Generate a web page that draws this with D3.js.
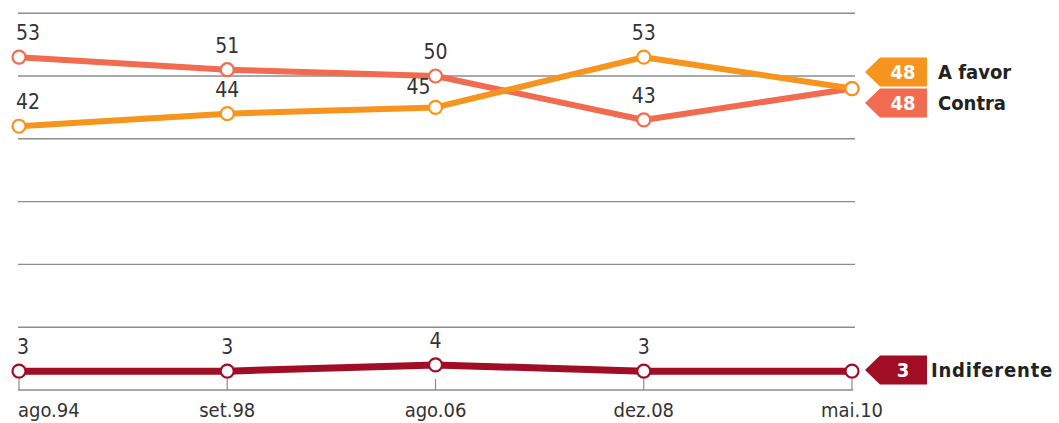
<!DOCTYPE html>
<html>
<head>
<meta charset="utf-8">
<script src="https://cdn.jsdelivr.net/npm/d3@7"></script>
<style>
  html, body { margin: 0; padding: 0; background: #fff; }
  svg { display: block; }
  text { font-family: "DejaVu Sans Condensed", "DejaVu Sans", sans-serif; }
</style>
</head>
<body>
<svg id="chart" width="1059" height="423"></svg>
<script>
/* ---- Data ---- */
var periods = ["ago.94", "set.98", "ago.06", "dez.08", "mai.10"];
var aFavor = [42, 44, 45, 53, 48];
var contra = [53, 51, 50, 43, 48];
var indiferente = [3, 3, 4, 3, 3];
var gridValues = [10, 20, 30, 40, 50, 60];

var series = [
  { name: "Contra", values: contra, color: "#f06b4f", width: 6, tagY: 103, nameX: 938, spacing: 0 },
  { name: "A favor", values: aFavor, color: "#f7941d", width: 6, tagY: 72, nameX: 938, spacing: 0 },
  { name: "Indiferente", values: indiferente, color: "#a00d25", width: 7, tagY: 370, nameX: 931, spacing: 0.8 }
];

// label placement per point (index -> anchor/offsets), last point has a tag instead
var labelTweaks = {
  "Contra": { 0: { anchor: "start", dx: -3 } },
  "A favor": { 0: { anchor: "start", dx: -3 }, 2: { anchor: "end", dx: -5, dy: 4 } },
  "Indiferente": { 0: { anchor: "start", dx: -2 } }
};

var svg = d3.select("#chart");

var x = d3.scalePoint().domain(periods).range([19, 852]);
var y = d3.scaleLinear().domain([0, 60]).range([390, 13.2]);

/* ---- Grid ---- */
svg.append("g")
  .selectAll("line")
  .data(gridValues)
  .join("line")
  .attr("x1", 18).attr("x2", 855)
  .attr("y1", function (d) { return y(d); })
  .attr("y2", function (d) { return y(d); })
  .attr("stroke", "#8c8c8c")
  .attr("stroke-width", 1.4);

// baseline + ticks
svg.append("line")
  .attr("x1", 18).attr("x2", 853)
  .attr("y1", y(0)).attr("y2", y(0))
  .attr("stroke", "#8c8c8c").attr("stroke-width", 1.4);

svg.append("g")
  .selectAll("line")
  .data(periods)
  .join("line")
  .attr("x1", function (d) { return x(d); })
  .attr("x2", function (d) { return x(d); })
  .attr("y1", y(0) - 11).attr("y2", y(0))
  .attr("stroke", "#8c8c8c").attr("stroke-width", 1.2);

svg.append("g")
  .selectAll("text")
  .data(periods)
  .join("text")
  .attr("x", function (d, i) { return i === 0 ? x(d) - 1 : x(d); })
  .attr("y", 417)
  .attr("text-anchor", function (d, i) { return i === 0 ? "start" : "middle"; })
  .attr("font-size", 20)
  .attr("fill", "#333")
  .text(function (d) { return d; });

/* ---- Lines ---- */
var line = d3.line()
  .x(function (d, i) { return x(periods[i]); })
  .y(function (d) { return y(d); });

series.forEach(function (s) {
  var g = svg.append("g");

  g.append("path")
    .datum(s.values)
    .attr("d", line)
    .attr("fill", "none")
    .attr("stroke", s.color)
    .attr("stroke-width", s.width)
    .attr("stroke-linejoin", "round");

  g.selectAll("circle")
    .data(s.values)
    .join("circle")
    .attr("cx", function (d, i) { return x(periods[i]); })
    .attr("cy", function (d) { return y(d); })
    .attr("r", 6.5)
    .attr("fill", "#fff")
    .attr("stroke", s.color)
    .attr("stroke-width", 2.2);

  var tweaks = labelTweaks[s.name] || {};
  g.selectAll("text.val")
    .data(s.values.slice(0, -1))
    .join("text")
    .attr("class", "val")
    .attr("x", function (d, i) { return x(periods[i]) + ((tweaks[i] && tweaks[i].dx) || 0); })
    .attr("y", function (d, i) { return y(d) - 17 + ((tweaks[i] && tweaks[i].dy) || 0); })
    .attr("text-anchor", function (d, i) { return (tweaks[i] && tweaks[i].anchor) || "middle"; })
    .attr("font-size", 21)
    .attr("fill", "#333")
    .text(function (d) { return d; });
});

/* ---- End tags ---- */
series.forEach(function (s) {
  var last = s.values[s.values.length - 1];
  var cy = s.tagY;
  var tag = svg.append("g");
  tag.append("path")
    .attr("d", "M865," + cy + "L880," + (cy - 14.5) + "L927," + (cy - 14.5) +
      "L927," + (cy + 14.5) + "L880," + (cy + 14.5) + "Z")
    .attr("fill", s.color);
  tag.append("text")
    .attr("x", 903).attr("y", cy + 7)
    .attr("text-anchor", "middle")
    .attr("font-size", 20).attr("font-weight", "bold")
    .attr("fill", "#fff")
    .text(last);
  tag.append("text")
    .attr("x", s.nameX).attr("y", cy + 7)
    .attr("font-size", 20).attr("font-weight", "bold")
    .attr("letter-spacing", s.spacing)
    .attr("fill", "#222")
    .text(s.name);
});
</script>
</body>
</html>
